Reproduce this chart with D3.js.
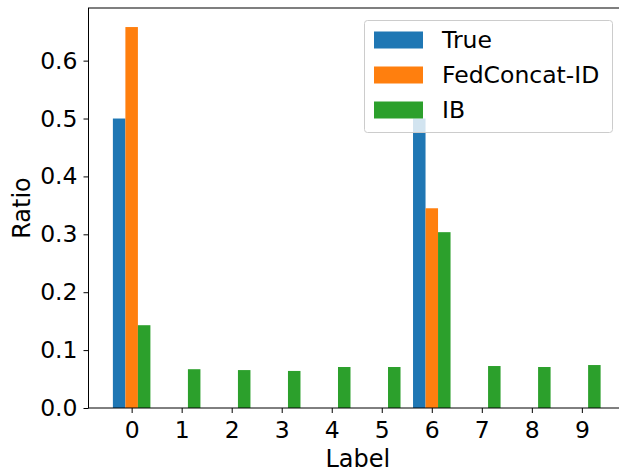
<!DOCTYPE html>
<html>
<head>
<meta charset="utf-8">
<script src="https://cdn.jsdelivr.net/npm/d3@7/dist/d3.min.js"></script>
<style>
body{margin:0;background:#fff;}
svg{display:block;font-family:"DejaVu Sans",sans-serif;}
</style>
</head>
<body>
<svg id="chart" width="619" height="472"></svg>
<script>
const categories = [0,1,2,3,4,5,6,7,8,9];
const seriesNames = ["True","FedConcat-ID","IB"];
const trueVals   = [0.5,0,0,0,0,0,0.5,0,0,0];
const fedVals    = [0.658,0,0,0,0,0,0.345,0,0,0];
const ibVals     = [0.143,0.067,0.0655,0.064,0.0708,0.0708,0.3037,0.0725,0.0708,0.0742];
const yTicks = [0.0,0.1,0.2,0.3,0.4,0.5,0.6];
const colors = ["#1f77b4","#ff7f0e","#2ca02c"];

const series = [trueVals, fedVals, ibVals];
const svg = d3.select("#chart");
const L = 88.5, R = 625, T = 8, B = 408;
const barW = 0.25;
const offsets = [-0.25, 0, 0.25];

const x = d3.scaleLinear().domain([-0.8625, 9.8625]).range([L, R]);
const ymax = d3.max(series.flat()) * 1.05;
const y = d3.scaleLinear().domain([0, ymax]).range([B, T]);

// bars
series.forEach((vals, si) => {
  svg.append("g").selectAll("rect").data(vals).enter().append("rect")
    .attr("x", (d,i) => x(categories[i] + offsets[si] - barW/2))
    .attr("width", (d,i) => x(categories[i] + offsets[si] + barW/2) - x(categories[i] + offsets[si] - barW/2))
    .attr("y", d => y(d))
    .attr("height", d => y(0) - y(d))
    .attr("fill", colors[si]);
});

// axes
const xAxis = d3.axisBottom(x).tickValues(categories).tickFormat(d3.format("d")).tickSize(5).tickPadding(8);
const yAxis = d3.axisLeft(y).tickValues(yTicks).tickFormat(d3.format(".1f")).tickSize(5).tickPadding(6);

const gx = svg.append("g").attr("transform", `translate(0,${B})`).call(xAxis);
const gy = svg.append("g").attr("transform", `translate(${L},0)`).call(yAxis);
[gx, gy].forEach(g => {
  g.select(".domain").remove();
  g.selectAll(".tick line").attr("stroke", "#000").attr("stroke-width", 1);
  g.selectAll(".tick text").attr("font-size", 23.5).attr("fill", "#000").attr("font-family", "DejaVu Sans");
});

// spines
svg.append("rect").attr("x", L).attr("y", T).attr("width", R - L).attr("height", B - T)
  .attr("fill", "none").attr("stroke", "#000").attr("stroke-width", 1);

// axis labels
svg.append("text").attr("x", (L + R) / 2 + 1).attr("y", 467).attr("text-anchor", "middle")
  .attr("font-size", 24).attr("fill", "#000").text("Label");
svg.append("text").attr("transform", `translate(30,${(T + B) / 2}) rotate(-90)`).attr("text-anchor", "middle")
  .attr("font-size", 24).attr("fill", "#000").text("Ratio");

// legend
const lg = svg.append("g");
lg.append("rect").attr("x", 364.5).attr("y", 20.5).attr("width", 248).attr("height", 112).attr("rx", 3)
  .attr("fill", "#fff").attr("fill-opacity", 0.8).attr("stroke", "#cccccc").attr("stroke-width", 1);
seriesNames.forEach((name, i) => {
  const cy = 40 + i * 35;
  lg.append("rect").attr("x", 374).attr("y", cy - 8.5).attr("width", 49).attr("height", 17).attr("fill", colors[i]);
  lg.append("text").attr("x", 442).attr("y", cy).attr("dy", "0.36em").attr("font-size", 23.5).attr("fill", "#000").text(name);
});
</script>
</body>
</html>
